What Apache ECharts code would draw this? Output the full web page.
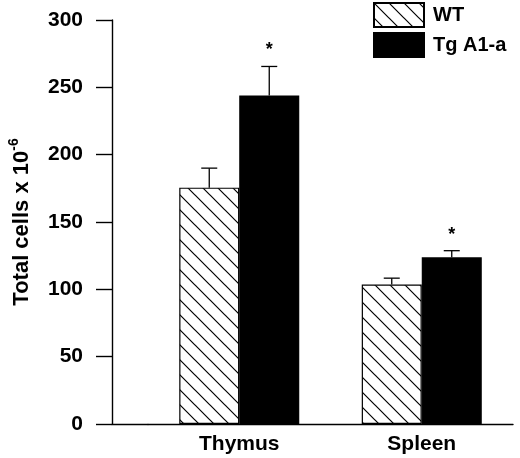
<!DOCTYPE html>
<html>
<head>
<meta charset="utf-8">
<script src="https://cdn.jsdelivr.net/npm/echarts@6/dist/echarts.min.js"></script>
<style>
  html, body { margin: 0; padding: 0; background: #fff; }
  #chart { width: 520px; height: 458px; }
</style>
</head>
<body>
<div id="chart"></div>
<script>
// data
var categories = ['Thymus', 'Spleen'];
var seriesNames = ['WT', 'Tg A1-a'];
var wtValues = [175.5, 103.5];
var wtErrors = [14.5, 4.8];
var tgValues = [244, 123.8];
var tgErrors = [21.5, 4.9];
var tgMarks = ['*', '*'];
var yTicks = [0, 50, 100, 150, 200, 250, 300];

var FONT = '"Liberation Sans", Arial, sans-serif';
var BAR_W = 60;

//斜线填充
function hatch(size) {
    var c = document.createElement('canvas');
    c.width = size; c.height = size;
    var ctx = c.getContext('2d');
    ctx.fillStyle = '#fff';
    ctx.fillRect(0, 0, size, size);
    ctx.strokeStyle = '#000';
    ctx.lineWidth = 1.2;
    ctx.beginPath();
    ctx.moveTo(-2, -2); ctx.lineTo(size + 2, size + 2);
    ctx.moveTo(-2, size - 2); ctx.lineTo(2, size + 2);
    ctx.moveTo(size - 2, -2); ctx.lineTo(size + 2, 2);
    ctx.stroke();
    return c;
}

//误差线
function errorSeries(values, errors, side, marks) {
    var data = values.map(function (v, i) { return [i, v, errors[i], marks ? marks[i] : '']; });
    return {
        type: 'custom',
        silent: true,
        z: 5,
        xAxisIndex: 1,
        yAxisIndex: 1,
        data: data,
        renderItem: function (params, api) {
            var top = api.coord([api.value(0), api.value(1) + api.value(2)]);
            var base = api.coord([api.value(0), api.value(1)]);
            var x = base[0] + side * BAR_W / 2;
            var children = [
                { type: 'line', shape: { x1: x, y1: base[1], x2: x, y2: top[1] }, style: { stroke: '#000', lineWidth: 1.3 } },
                { type: 'line', shape: { x1: x - 8, y1: top[1], x2: x + 8, y2: top[1] }, style: { stroke: '#000', lineWidth: 1.3 } }
            ];
            var m = data[params.dataIndex][3];
            if (m) {
                children.push({
                    type: 'text',
                    style: { text: m, x: x, y: top[1] - 16, align: 'center', verticalAlign: 'middle', font: 'bold 18px ' + FONT, fill: '#000' }
                });
            }
            return { type: 'group', children: children };
        }
    };
}

var yRange = {
    type: 'value',
    min: yTicks[0],
    max: yTicks[yTicks.length - 1],
    interval: yTicks[1] - yTicks[0],
    splitLine: { show: false }
};

var chart = echarts.init(document.getElementById('chart'), null, { renderer: 'canvas' });

chart.setOption({
    animation: false,
    backgroundColor: '#fff',
    grid: [
        //左侧坐标轴区域
        { left: 112, right: 372, top: 20, bottom: 34, containLabel: false, outerBoundsMode: 'none' },
        //柱子区域
        { left: 148, right: 7, top: 20, bottom: 34, containLabel: false, outerBoundsMode: 'none' }
    ],
    legend: {
        orient: 'vertical',
        left: 373,
        top: 2,
        padding: 0,
        itemWidth: 50,
        itemHeight: 24,
        itemGap: 4,
        icon: 'rect',
        data: seriesNames,
        textStyle: { fontFamily: FONT, fontWeight: 'bold', fontSize: 20, color: '#000', padding: [0, 0, 0, 4] }
    },
    xAxis: [
        {
            gridIndex: 0,
            type: 'category',
            data: [''],
            axisLine: { lineStyle: { color: '#000', width: 1.4 } },
            axisTick: { show: false },
            axisLabel: { show: false }
        },
        {
            gridIndex: 1,
            type: 'category',
            data: categories,
            axisLine: { lineStyle: { color: '#000', width: 1.4 } },
            axisTick: { show: false },
            axisLabel: { margin: 10, color: '#000', fontFamily: FONT, fontWeight: 'bold', fontSize: 21 }
        }
    ],
    yAxis: [
        Object.assign({}, yRange, {
            gridIndex: 0,
            axisLine: { show: true, lineStyle: { color: '#000', width: 1.4 } },
            axisTick: { show: true, inside: false, length: 16, lineStyle: { color: '#000', width: 1.4 } },
            axisLabel: { margin: 29, color: '#000', fontFamily: FONT, fontWeight: 'bold', fontSize: 21 },
            name: '{a|Total cells x 10}{b|-6}',
            nameLocation: 'middle',
            nameGap: 75,
            nameRotate: 90,
            nameTextStyle: {
                rich: {
                    a: { fontFamily: FONT, fontWeight: 'bold', fontSize: 22, color: '#000', lineHeight: 30 },
                    b: { fontFamily: FONT, fontWeight: 'bold', fontSize: 14, color: '#000', lineHeight: 14, verticalAlign: 'top' }
                }
            }
        }),
        Object.assign({}, yRange, { gridIndex: 1, show: false })
    ],
    series: [
        {
            name: seriesNames[0],
            type: 'bar',
            xAxisIndex: 1,
            yAxisIndex: 1,
            barWidth: BAR_W,
            barGap: '0%',
            data: wtValues,
            itemStyle: { color: { image: hatch(15), repeat: 'repeat' }, borderColor: '#000', borderWidth: 1.2 }
        },
        {
            name: seriesNames[1],
            type: 'bar',
            xAxisIndex: 1,
            yAxisIndex: 1,
            barWidth: BAR_W,
            barGap: '0%',
            data: tgValues,
            itemStyle: { color: '#000', borderColor: '#000', borderWidth: 1.2 }
        },
        errorSeries(wtValues, wtErrors, -1, null),
        errorSeries(tgValues, tgErrors, 1, tgMarks)
    ]
});
</script>
</body>
</html>
